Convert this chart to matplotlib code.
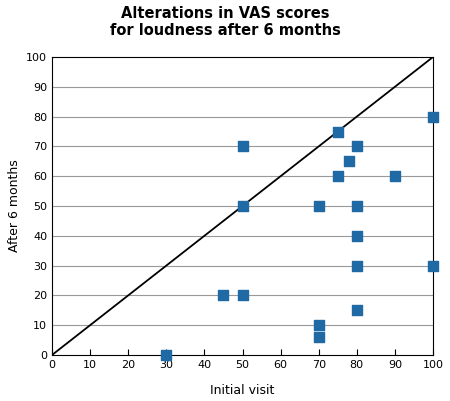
import matplotlib
matplotlib.use("Agg")
import matplotlib.pyplot as plt

x = [30, 45, 50, 50, 50, 70, 70, 70, 75, 75, 78, 80, 80, 80, 80, 80, 90, 100, 100]
y = [0, 20, 20, 70, 50, 50, 10, 6, 75, 60, 65, 70, 50, 40, 30, 15, 60, 80, 30]
ticks = list(range(0, 101, 10))

fig = plt.figure(figsize=(4.5, 4.01), dpi=100)
ax = fig.add_axes([52/450, 46/401, 381/450, 298/401])
for t in ticks[1:-1]:
    ax.axhline(t, color="#999999", lw=0.8, zorder=0)
ax.plot([0, 100], [0, 100], color="black", lw=1.3, zorder=1)
ax.scatter(x, y, marker="s", s=55, color="#1f6aa5", zorder=3, clip_on=False)
ax.set_xlim(0, 100); ax.set_ylim(0, 100)
ax.set_xticks(ticks); ax.set_yticks(ticks)
ax.tick_params(labelsize=8, direction="in", length=4)
ax.tick_params(axis="y", length=0)
ax.set_xlabel("Initial visit", fontsize=9, labelpad=10)
ax.set_ylabel("After 6 months", fontsize=9)
fig.suptitle("Alterations in VAS scores\nfor loudness after 6 months", fontsize=10.5, fontweight="bold", y=0.985)
fig.savefig("out.png", dpi=100)
